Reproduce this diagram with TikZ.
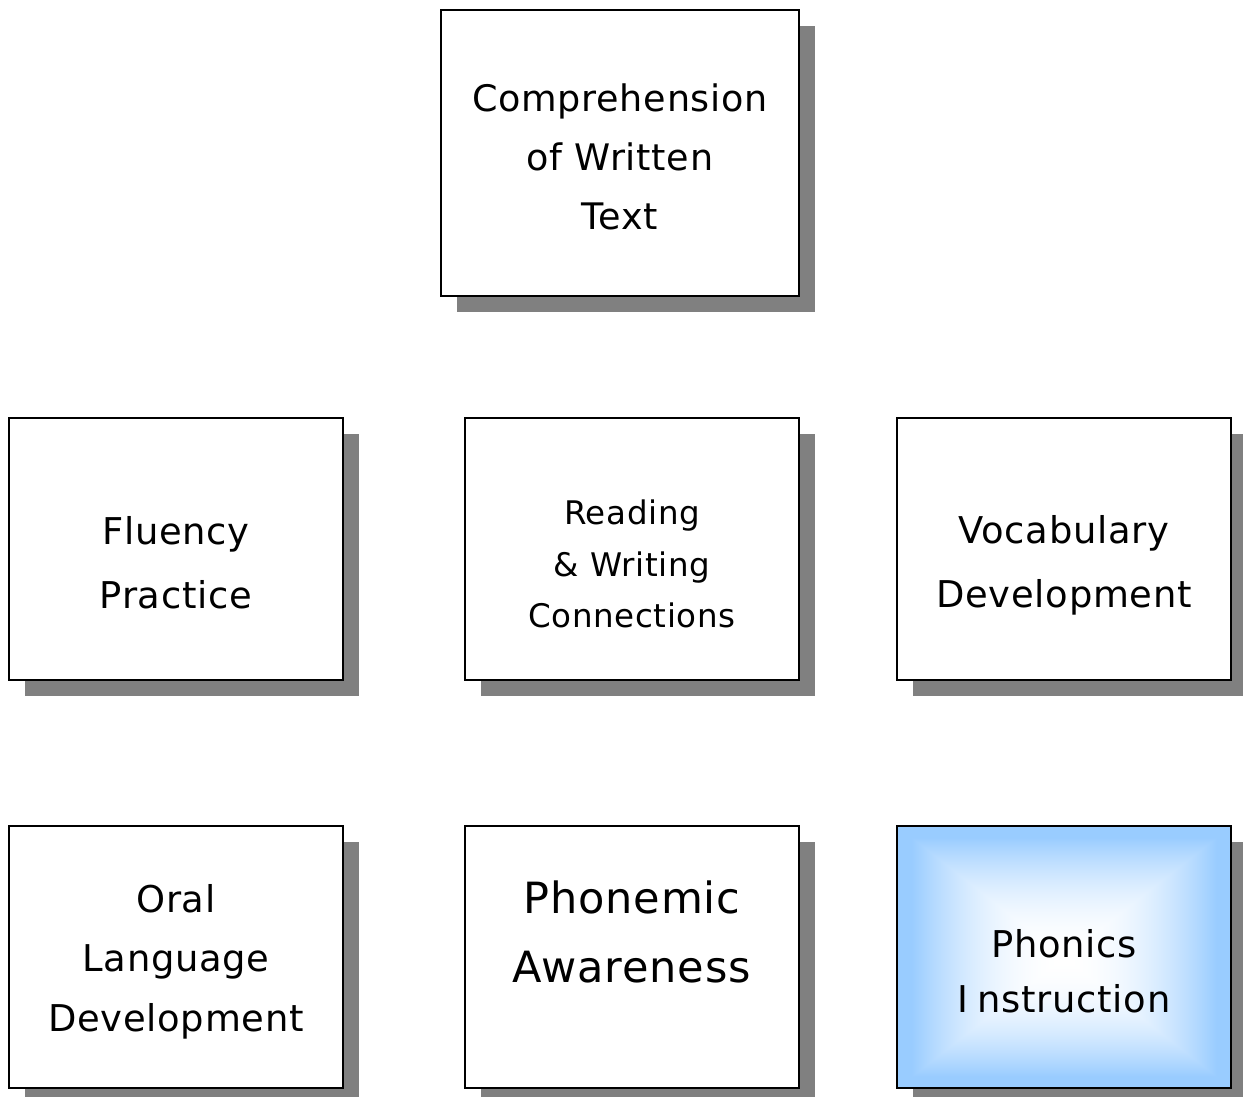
\documentclass[tikz,border=0pt]{standalone}
\usepackage{fontspec}
\setmainfont[LetterSpace=2]{DejaVu Sans}
\usetikzlibrary{shadows}
\pgfdeclarefunctionalshading{phonicsglow}{\pgfpoint{-50bp}{-50bp}}{\pgfpoint{50bp}{50bp}}{}{
  abs exch abs 2 copy lt {exch} if pop 25 div dup mul 1.2 mul dup 1 gt {pop 1} if
  dup 0.4 mul 1 exch sub exch 0.2 mul 1 exch sub 1}
\tikzset{
  tile/.style={draw=black, line width=1.6pt, fill=white, inner sep=0pt,
    minimum width=6.68cm, minimum height=5.24cm,
    drop shadow={shadow xshift=0.32cm, shadow yshift=-0.32cm, fill=black!50, opacity=1}},
  bigtile/.style={tile, minimum width=7.16cm, minimum height=5.72cm},
  words/.style={align=center, inner sep=0pt, text=black},
}

\begin{document}
\begin{tikzpicture}[x=0.02cm, y=-0.02cm]
  \useasboundingbox (0,0) rectangle (1243,1097);
  % boxes
  \node[bigtile] (compr) at (620,153) {};
  \node[tile] (fluency) at (176,549) {};
  \node[tile] (readwrite) at (632,549) {};
  \node[tile] (vocab) at (1064,549) {};
  \node[tile] (oral) at (176,957) {};
  \node[tile] (phonemic) at (632,957) {};
  \node[tile, shading=phonicsglow] (phonics) at (1064,957) {};
  % labels
  \node[words, font=\fontsize{20.8}{33.4}\selectfont] (comprtext) at (620,156.8) {Comprehension\\of Written\\Text};
  \node[words, font=\fontsize{21}{36.3}\selectfont] (fluencytext) at (176,563) {Fluency\\Practice};
  \node[words, font=\fontsize{18.5}{29.3}\selectfont] (readwritetext) at (632,564.3) {Reading\\\& Writing\\Connections};
  \node[words, font=\fontsize{21}{36.3}\selectfont] (vocabtext) at (1064,565.5) {Vocabulary\\Development};
  \node[words, font=\fontsize{21}{34}\selectfont] (oraltext) at (176,961.7) {Oral\\Language\\Development};
  \node[words, font=\fontsize{24.5}{39.7}\selectfont] (phonemictext) at (632,932) {Phonemic\\Awareness};
  \node[words, font=\fontsize{21}{31.2}\selectfont] (phonicstext) at (1064,971) {Phonics\\I\kern5pt nstruction};
\end{tikzpicture}
\end{document}
